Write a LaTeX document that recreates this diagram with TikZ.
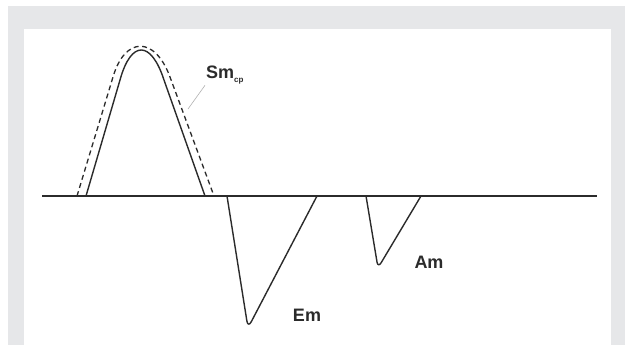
\documentclass[tikz,border=0pt]{standalone}
\usepackage{fontspec}
\setmainfont{Liberation Sans}
\usetikzlibrary{positioning,calc}
\definecolor{framegray}{HTML}{E6E7E9}
\definecolor{curvegray}{HTML}{2B2B2B}

\begin{document}
\begin{tikzpicture}[x=1pt, y=-1pt,
    curve/.style={draw=curvegray, line width=1.4pt, line join=round},
    label/.style={font=\fontsize{18}{21}\selectfont\bfseries, text=curvegray, inner sep=1pt},
    leader/.style={draw=black!30, line width=0.6pt}]
  % frame
  \useasboundingbox (0,0) rectangle (625,345);
  \fill[framegray] (8,6) rectangle (625,345);
  \fill[white] (24,29) rectangle (611,345);

  % axis
  \draw[curve, line width=1.2pt] (42,196) -- (597,196);

  % sinus pulse, measured and computed
  \draw[curve] (86,196) -- (120,80) .. controls (131,40) and (151,40) .. (164,80) -- (205,196);
  \draw[curve, line width=1.3pt, dash pattern=on 5pt off 3.5pt]
    (77,196) -- (113,77) .. controls (125,36) and (155,36) .. (170,77) -- (214,196);

  % echo pulses
  \draw[curve, rounded corners=7pt] (227,196) -- (248,328) -- (317,196);
  \draw[curve, rounded corners=6pt] (366,196) -- (378,268) -- (421,196);

  % labels
  \node (sm) [label, anchor=west] at (205,75) {Sm\raisebox{-4pt}{\fontsize{8}{9}\selectfont cp}};
  \node (em) [label] at (307,315) {Em};
  \node (am) [label] at (429,262) {Am};

  \coordinate (lead) at (188,109);
  \draw[leader] (sm.south west) -- (lead);
\end{tikzpicture}
\end{document}
